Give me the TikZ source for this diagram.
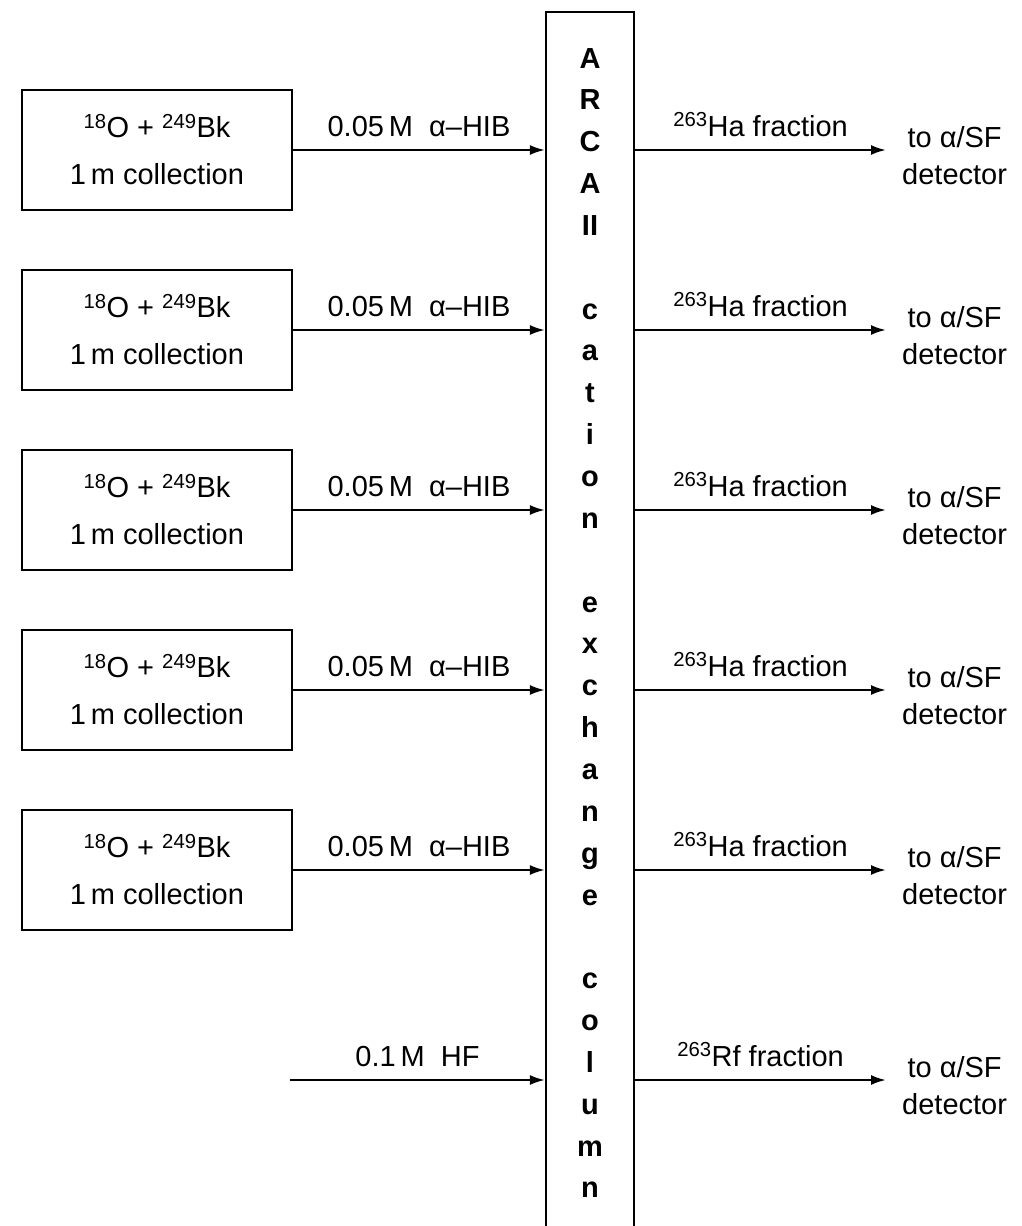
\documentclass[tikz,border=0pt]{standalone}
\usepackage{fontspec}
\setmainfont{Liberation Sans}
\usetikzlibrary{arrows.meta}
\begin{document}
\begin{tikzpicture}[x=1pt,y=-1pt,
  src/.style={draw, line width=2.2pt, minimum width=270pt, minimum height=120pt, align=center, font=\fontsize{29}{47}\selectfont, inner sep=0pt},
  colbox/.style={draw, line width=2.2pt, minimum width=88pt, minimum height=1222pt, align=center, font=\fontsize{29}{41.85}\selectfont\bfseries, inner sep=0pt},
  arr/.style={line width=2.2pt, -{Latex[length=15pt,width=10pt]}},
  lbl/.style={font=\fontsize{29}{32}\selectfont, inner sep=0pt, anchor=base, yshift=14pt},
  det/.style={align=center, font=\fontsize{29}{37}\selectfont, inner sep=0pt, anchor=west}
]
\useasboundingbox (0,0) rectangle (1021,1226);

\node[colbox] (col) at (590,623) {A\\R\\C\\A\\II\\\mbox{}\\c\\a\\t\\i\\o\\n\\\mbox{}\\e\\x\\c\\h\\a\\n\\g\\e\\\mbox{}\\c\\o\\l\\u\\m\\n};

\foreach \i/\y in {1/150,2/330,3/510,4/690,5/870}{
  \node[src] (b\i) at (157,\y) {\textsuperscript{18}O + \textsuperscript{249}Bk\\1\,m collection};
  \draw[arr] (b\i.east) -- (col.west |- b\i.east)
     node[midway, lbl] (l\i) {0.05\,M\ \ α–HIB};
  \coordinate (o\i) at (886,\y);
  \node[det] (d\i) at (902,\y+6) {to α/SF\\detector};
  \draw[arr] (col.east |- o\i) -- (o\i)
     node[midway, lbl] (f\i) {\textsuperscript{263}Ha fraction};
}

\coordinate (hf) at (290,1080);
\draw[arr] (hf) -- (col.west |- hf) node[midway, lbl] (l6) {0.1\,M\ \ HF};
\coordinate (o6) at (886,1080);
\node[det] (d6) at (902,1086) {to α/SF\\detector};
\draw[arr] (col.east |- o6) -- (o6) node[midway, lbl] (f6) {\textsuperscript{263}Rf fraction};
\end{tikzpicture}
\end{document}
